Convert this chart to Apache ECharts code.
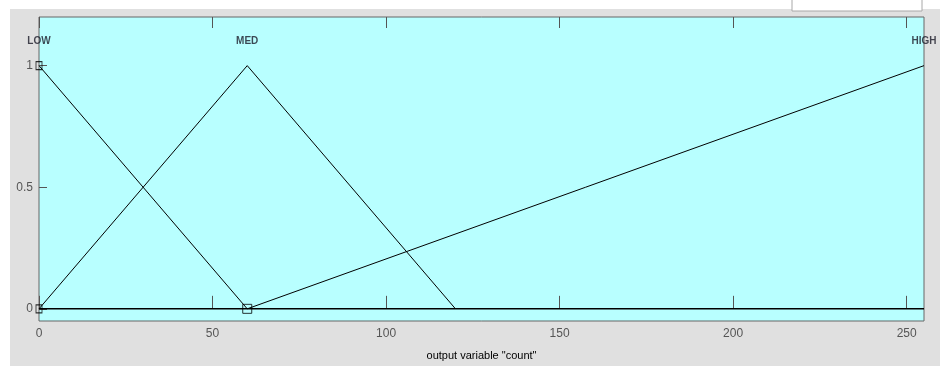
<!DOCTYPE html>
<html>
<head>
<meta charset="utf-8">
<script src="https://cdn.jsdelivr.net/npm/echarts@6/dist/echarts.min.js"></script>
<style>
html,body{margin:0;padding:0;background:#fff;}
#c{width:940px;height:366px;}
</style>
</head>
<body>
<div id="c"></div>
<script>
// Membership functions of output variable "count"
const mfNames = ['LOW', 'MED', 'HIGH'];
const lowPts = [[0, 1], [60, 0]];
const medPts = [[0, 0], [60, 1], [120, 0]];
const highPts = [[60, 0], [255, 1]];
const baseLine = [[0, 0], [255, 0]];
const labelPts = [[0, 1.1], [60, 1.1], [255, 1.1]];
const markerPts = [[0, 1], [0, 0]];
const markerBig = [[60, 0]];
const xTicks = [0, 50, 100, 150, 200, 250];
const yTicks = [0, 0.5, 1];
const xRange = [0, 255];
const yRange = [-0.05, 1.2];
const xTitle = 'output variable "count"';

const chart = echarts.init(document.getElementById('c'), null, {renderer: 'canvas'});
const font = "'Liberation Sans Narrow','Liberation Sans',Arial,sans-serif";
const lineStyle = {color: '#000', width: 1};

chart.setOption({
  animation: false,
  backgroundColor: '#fff',
  graphic: [
    {type: 'rect', z: -10, shape: {x: 10, y: 9, width: 930, height: 357}, style: {fill: '#e0e0e0'}},
    {type: 'rect', z: -9, shape: {x: 792, y: -2, width: 130, height: 13}, style: {fill: '#fff', stroke: '#a8a8a8', lineWidth: 1}}
  ],
  grid: {left: 39, right: 16, top: 17, bottom: 40, show: true, backgroundColor: '#b8ffff', borderColor: '#666', borderWidth: 1},
  xAxis: [{
    type: 'value', min: xRange[0], max: xRange[1], position: 'bottom',
    name: xTitle, nameLocation: 'middle', nameGap: 29,
    nameTextStyle: {fontFamily: font, fontSize: 11, color: '#000'},
    axisLine: {show: false},
    splitLine: {show: false},
    axisTick: {show: true, inside: true, length: 13, lineStyle: {color: '#555'}, customValues: xTicks},
    axisLabel: {fontFamily: font, fontSize: 12, color: '#555', margin: 7, customValues: xTicks}
  }, {
    type: 'value', min: xRange[0], max: xRange[1], position: 'top',
    axisLine: {show: false}, splitLine: {show: false},
    axisTick: {show: true, inside: true, length: 11, lineStyle: {color: '#555'}, customValues: xTicks},
    axisLabel: {show: false}
  }],
  yAxis: [{
    type: 'value', min: yRange[0], max: yRange[1],
    axisLine: {show: false}, splitLine: {show: false},
    axisTick: {show: true, inside: true, length: 8, lineStyle: {color: '#555'}, customValues: yTicks},
    axisLabel: {fontFamily: font, fontSize: 12, color: '#555', margin: 6, customValues: yTicks}
  }],
  series: [
    {type: 'line', data: baseLine, symbol: 'none', lineStyle: {color: '#000', width: 1.5}, z: 2},
    {type: 'line', data: lowPts, symbol: 'none', lineStyle: lineStyle, z: 3},
    {type: 'line', data: medPts, symbol: 'none', lineStyle: lineStyle, z: 3},
    {type: 'line', data: highPts, symbol: 'none', lineStyle: lineStyle, z: 3},
    {type: 'scatter', data: markerPts, symbol: 'rect', symbolSize: [6, 8],
     itemStyle: {color: 'rgba(0,0,0,0)', borderColor: '#000', borderWidth: 1}, z: 4},
    {type: 'scatter', data: markerBig, symbol: 'rect', symbolSize: [9, 9],
     itemStyle: {color: 'rgba(0,0,0,0)', borderColor: '#000', borderWidth: 1}, z: 4},
    {type: 'scatter', symbolSize: 0, silent: true, z: 5,
     data: labelPts.map((p, i) => ({value: p, name: mfNames[i]})),
     label: {show: true, position: 'inside', formatter: p => p.name,
       fontFamily: font, fontSize: 10, fontWeight: 'bold', color: '#1a1a28'}}
  ]
});
</script>
</body>
</html>
